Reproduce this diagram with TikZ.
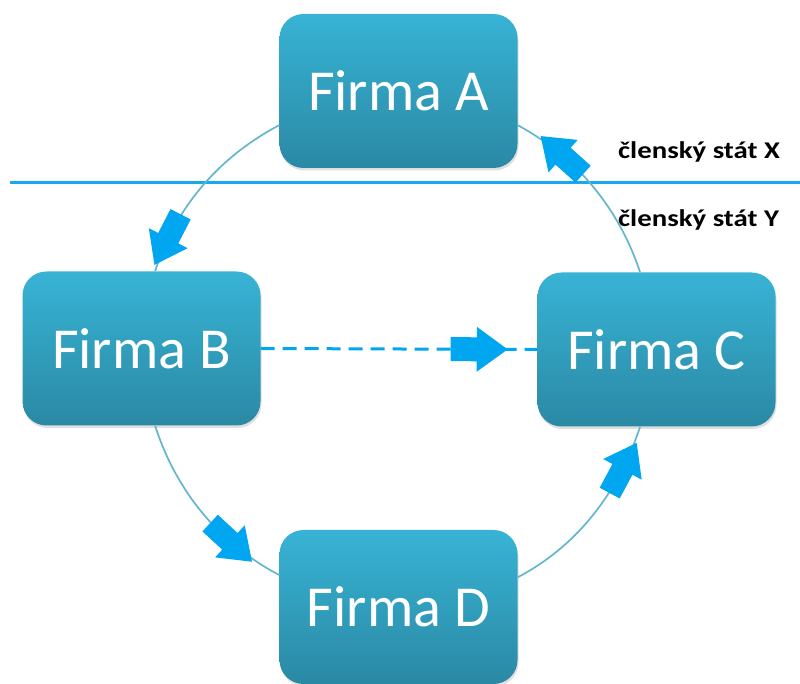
\documentclass[tikz,border=0pt]{standalone}
\usepackage{fontspec}
\setmainfont{Carlito}
\usetikzlibrary{shapes.arrows,shadows}
\definecolor{boxtop}{RGB}{56,179,213}
\definecolor{boxbot}{RGB}{42,137,164}
\definecolor{arcline}{RGB}{98,182,206}
\definecolor{flowblue}{RGB}{0,166,240}
\definecolor{borderline}{RGB}{24,168,236}
\newcommand{\widelabel}[1]{\scalebox{1.2}[1]{#1}}
\tikzset{
  firm/.style={rectangle, rounded corners=24pt, minimum width=238pt, minimum height=154pt,
    top color=boxtop, bottom color=boxbot, text=white, inner sep=0pt,
    font=\fontsize{58}{60}\selectfont,
    drop shadow={shadow xshift=1pt, shadow yshift=-2.5pt, opacity=0.25}},
  flow/.style={draw=arcline, line width=1.7pt, looseness=0.9},
  bigarrow/.style={single arrow, fill=flowblue, draw=none, sloped, allow upside down,
    minimum height=57pt, inner xsep=0pt, inner ysep=10.5pt,
    single arrow head extend=10.5pt, single arrow tip angle=72, anchor=center},
  statelabel/.style={anchor=base west, inner sep=0pt, font=\bfseries\fontsize{24}{26}\selectfont}
}
\begin{document}
\begin{tikzpicture}[x=1pt,y=1pt]
\useasboundingbox (0,0) rectangle (800,684);

% boundary between the two member states
\coordinate (lineL) at (10,501);
\coordinate (lineR) at (800,501);
\draw[borderline, line width=3pt] (lineL) -- (lineR);
\node[statelabel] (stX) at (618,525) {\widelabel{členský stát X}};
\node[statelabel] (stY) at (618,457) {\widelabel{členský stát Y}};

% companies
\node[firm] (A) at (398.5,593) {Firma A};
\node[firm] (B) at (141.5,335.5) {Firma B};
\node[firm] (C) at (656.5,334.5) {Firma C};
\node[firm] (D) at (398.5,77) {Firma D};

% circular chain of deliveries
\draw[flow] (A.196) to[out=207.7, in=72.2]
  node[bigarrow, pos=0.79] {} (B.80);
\draw[flow] (B.280) to[out=287.8, in=152.3]
  node[bigarrow, pos=0.67] {} (D.165);
\draw[flow] (D.14) to[out=27.7, in=251.7]
  node[bigarrow, pos=0.74] {} (C.258);
\draw[flow] (C.102) to[out=108.3, in=331.5]
  node[bigarrow, pos=0.69] {} (A.344);

% direct transport from B to C
\draw[flowblue, line width=3pt, dash pattern=on 14pt off 8pt] (B.east) --
  node[bigarrow, pos=0.76] {} (C.west);
\end{tikzpicture}
\end{document}
